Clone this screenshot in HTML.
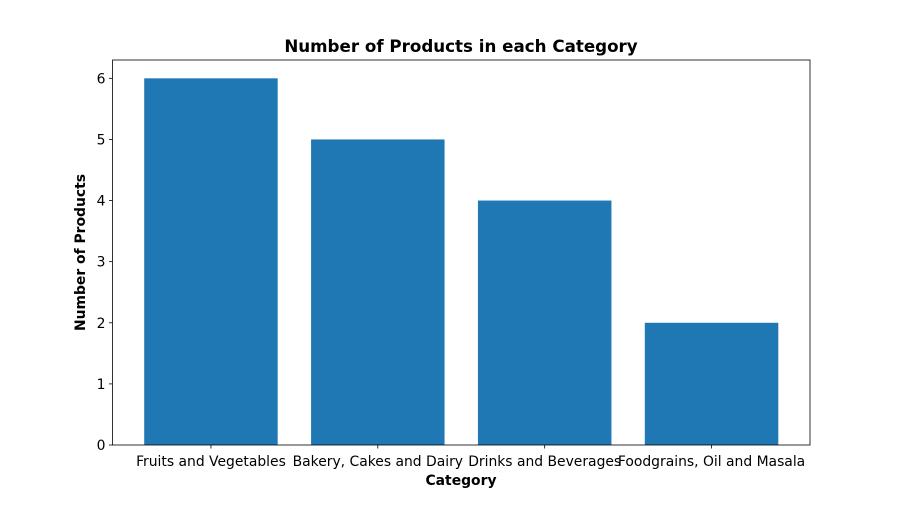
<!DOCTYPE html>
<html><head><meta charset="utf-8"><style>
body{margin:0;background:#fff;}
text{font-family:"DejaVu Sans","Liberation Sans",sans-serif;}
</style></head><body>
<svg id="chart" width="900" height="500" xmlns="http://www.w3.org/2000/svg">
<rect width="900" height="500" fill="#fff"/>
<g id="plot"></g>
<text x="461" y="52" text-anchor="middle" font-size="16.7" font-weight="bold">Number of Products in each Category</text>
<text x="461" y="485" text-anchor="middle" font-size="13.9" font-weight="bold">Category</text>
<text transform="translate(85,252.5) rotate(-90)" text-anchor="middle" font-size="13.9" font-weight="bold">Number of Products</text>
</svg>
<script>
const categories=["Fruits and Vegetables","Bakery, Cakes and Dairy","Drinks and Beverages","Foodgrains, Oil and Masala"];
const values=[6,5,4,2];
const yTicks=[0,1,2,3,4,5,6];
const L=112.5,R=810,T=60,B=445;
const ymax=Math.max(...values)*1.05;
const n=categories.length;
const xmin=-0.4-0.05*(n-0.2),xmax=n-1+0.4+0.05*(n-0.2);
const xs=v=>L+(v-xmin)/(xmax-xmin)*(R-L);
const ys=v=>B-v/ymax*(B-T);
const NS="http://www.w3.org/2000/svg";
const g=document.getElementById('plot');
function mk(t,a){const e=document.createElementNS(NS,t);for(const k in a)e.setAttribute(k,a[k]);g.appendChild(e);return e;}
values.forEach((v,i)=>{
 const r=mk('rect',{x:xs(i-0.4),y:ys(v),width:xs(i+0.4)-xs(i-0.4),height:ys(0)-ys(v),fill:'#1f77b4'});
 
 
 const tk=mk('line',{x1:xs(i),x2:xs(i),y1:B,y2:B+3.5,stroke:'#000','stroke-width':0.8});
 
 
 const t=mk('text',{x:xs(i),y:B+21,'text-anchor':'middle','font-size':13.9});
 t.textContent=categories[i];
 
 
});
yTicks.forEach(v=>{
 const tk=mk('line',{x1:L-3.5,x2:L,y1:ys(v),y2:ys(v),stroke:'#000','stroke-width':0.8});
 
 
 const t=mk('text',{x:L-7,y:ys(v)+5,'text-anchor':'end','font-size':13.9});
 t.textContent=v;
 
 
});
const f=mk('rect',{x:L,y:T,width:R-L,height:B-T,fill:'none',stroke:'#000','stroke-width':0.8});


</script>
</body></html>
